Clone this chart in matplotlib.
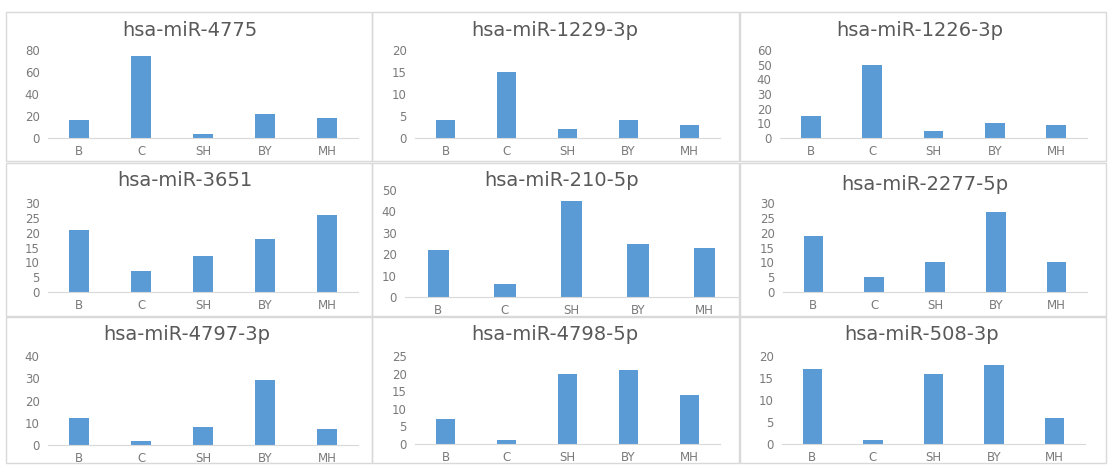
import matplotlib.pyplot as plt
from matplotlib.patches import Rectangle

W, H = 1117, 472

groups = ['B', 'C', 'SH', 'BY', 'MH']

titles = ['hsa-miR-4775', 'hsa-miR-1229-3p', 'hsa-miR-1226-3p',
          'hsa-miR-3651', 'hsa-miR-210-5p', 'hsa-miR-2277-5p',
          'hsa-miR-4797-3p', 'hsa-miR-4798-5p', 'hsa-miR-508-3p']

mir_4775 = [16, 75, 4, 22, 18]
mir_1229 = [4, 15, 2, 4, 3]
mir_1226 = [15, 50, 5, 10, 9]
mir_3651 = [21, 7, 12, 18, 26]
mir_210 = [22, 6, 45, 25, 23]
mir_2277 = [19, 5, 10, 27, 10]
mir_4797 = [12, 2, 8, 29, 7]
mir_4798 = [7, 1, 20, 21, 14]
mir_508 = [17, 1, 16, 18, 6]

series = [mir_4775, mir_1229, mir_1226, mir_3651, mir_210,
          mir_2277, mir_4797, mir_4798, mir_508]

y_max = [80, 20, 60, 30, 50, 30, 40, 25, 20]
y_step = [20, 5, 10, 5, 10, 5, 10, 5, 5]

# plot boxes in pixels: left, right, y of 0, y of top tick
boxes = [(48, 358, 138, 50), (415, 720, 138, 50), (780, 1087, 138, 50),
         (48, 358, 292, 203), (405, 738, 297, 190), (783, 1087, 292, 203),
         (48, 358, 445, 356), (415, 720, 444, 356), (782, 1085, 444, 356)]
title_pos = [(190, 30), (555, 30), (920, 30),
             (185, 181), (562, 180), (925, 184),
             (187, 335), (555, 335), (922, 335)]

# panel frames
cols = [(6, 372), (372, 739), (740, 1106)]
rows = [(12, 161), (163, 316), (317, 463)]

bar_color = '#5b9bd5'
title_color = '#595959'
tick_color = '#7a7a7a'

fig = plt.figure(figsize=(W / 100, H / 100), dpi=100)
fig.patch.set_facecolor('white')

for (r0, r1) in rows:
    for (c0, c1) in cols:
        fig.patches.append(Rectangle((c0 / W, 1 - r1 / H), (c1 - c0) / W, (r1 - r0) / H,
                                     transform=fig.transFigure, fill=False,
                                     edgecolor='#d9d9d9', linewidth=1.0))

for i in range(9):
    l, r, y0, yt = boxes[i]
    ax = fig.add_axes([l / W, 1 - y0 / H, (r - l) / W, (y0 - yt) / H])
    ax.bar(range(5), series[i], width=0.32, color=bar_color)
    ax.set_xlim(-0.5, 4.5)
    ax.set_ylim(0, y_max[i])
    ax.set_yticks(range(0, y_max[i] + 1, y_step[i]))
    ax.set_xticks(range(5))
    ax.set_xticklabels(groups)
    ax.tick_params(length=0, labelsize=8.5, colors=tick_color, pad=6)
    ax.tick_params(axis='x', pad=5)
    for s in ['top', 'right', 'left']:
        ax.spines[s].set_visible(False)
    ax.spines['bottom'].set_color('#d9d9d9')
    ax.set_facecolor('none')
    tx, ty = title_pos[i]
    fig.text(tx / W, 1 - ty / H, titles[i], ha='center', va='center',
             fontsize=14, color=title_color)

fig.savefig('out.png', dpi=100)
